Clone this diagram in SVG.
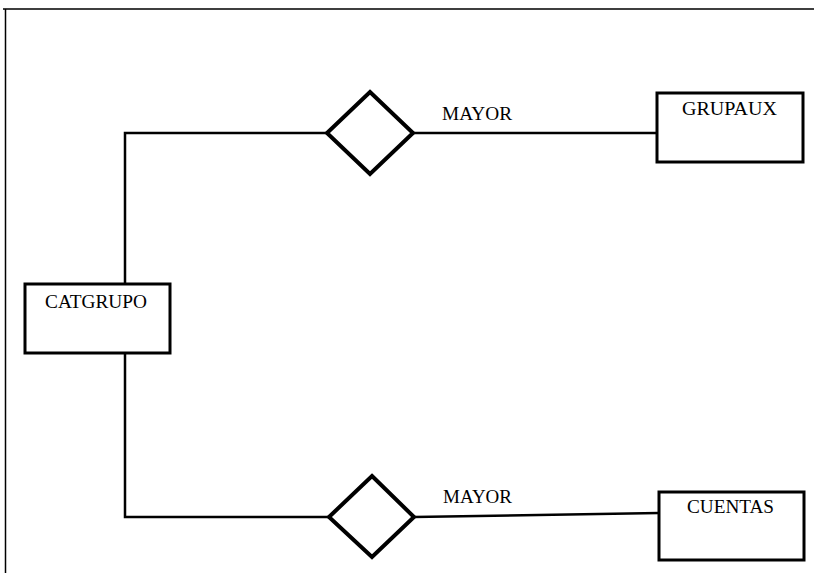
<svg xmlns="http://www.w3.org/2000/svg" width="814" height="573" viewBox="0 0 814 573">
<style>
.box{fill:#fff;stroke:#000;stroke-width:3}
.dia{fill:#fff;stroke:#000;stroke-width:4;stroke-linejoin:miter}
.ln{fill:none;stroke:#000;stroke-width:2.5}
.frame{fill:none;stroke:#000;stroke-width:1.5}
text{font-family:"Liberation Serif",serif;font-size:18px;fill:#000}
</style>
<rect width="814" height="573" fill="#fff"/>
<path class="frame" d="M3,9 H814 M5.5,9 V573"/>
<g id="connectors">
<path class="ln" d="M125,284 V133 H327"/>
<path class="ln" d="M125,353 V517 H329"/>
<path class="ln" d="M413,133 H657"/>
<path class="ln" d="M414,517 L659,513"/>
</g>
<g id="catgrupo">
<rect class="box" x="25" y="284" width="145" height="69"/>
<text x="45" y="308" textLength="102" lengthAdjust="spacingAndGlyphs">CATGRUPO</text>
</g>
<g id="rel-mayor-1">
<polygon class="dia" points="370,92 413,133 370,174 327,133"/>
<text x="442" y="120" textLength="70" lengthAdjust="spacingAndGlyphs">MAYOR</text>
</g>
<g id="rel-mayor-2">
<polygon class="dia" points="372,476 414,517 372,557 329,517"/>
<text x="443" y="503" textLength="69" lengthAdjust="spacingAndGlyphs">MAYOR</text>
</g>
<g id="grupaux">
<rect class="box" x="657" y="93" width="146" height="69"/>
<text x="682" y="115" textLength="95" lengthAdjust="spacingAndGlyphs">GRUPAUX</text>
</g>
<g id="cuentas">
<rect class="box" x="659" y="492" width="145" height="68"/>
<text x="687" y="513" textLength="87" lengthAdjust="spacingAndGlyphs">CUENTAS</text>
</g>
</svg>
